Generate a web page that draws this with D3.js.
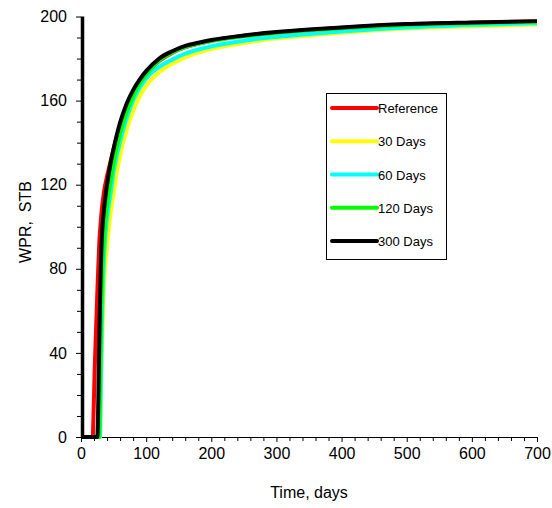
<!DOCTYPE html>
<html>
<head>
<meta charset="utf-8">
<script src="https://cdn.jsdelivr.net/npm/d3@7"></script>
<style>
  html, body { margin: 0; padding: 0; background: #fff; }
  svg { display: block; font-family: "Liberation Sans", Arial, sans-serif; }
</style>
</head>
<body>
<svg id="chart" width="552" height="508"></svg>
<script>
// ---- data ----
const seriesNames = ["Reference", "30 Days", "60 Days", "120 Days", "300 Days"];
const seriesColors = ["#ff0000", "#ffff00", "#00ffff", "#00ff00", "#000000"];

const refTime = [0, 18, 19, 21, 23, 25, 28, 31, 35, 40, 45, 50, 60, 70, 80, 90, 100, 120, 140, 160, 180, 200, 250, 300, 350, 400, 500, 600, 700];
const refWPR  = [0, 0, 8, 32, 50, 68, 92, 105, 116, 124, 130.5, 137, 148, 157, 163.5, 168.5, 172.5, 178.8, 182.7, 185.4, 187.1, 188.5, 190.8, 192.4, 193.6, 194.6, 196.2, 197, 197.6];

const d30Time = [0, 29, 30, 31, 32, 34, 36, 38, 40, 43, 46, 50, 55, 60, 70, 80, 90, 100, 120, 140, 160, 180, 200, 250, 300, 350, 400, 500, 600, 700];
const d30WPR  = [0, 0, 12, 28, 42, 62, 76, 85, 91, 100, 108, 116, 126, 134, 146, 155, 162, 167, 173.5, 177.5, 180.5, 182.8, 184.5, 187.4, 189.6, 191, 192.3, 194.3, 195.4, 196.2];

const d60Time = [0, 29, 30, 31, 32, 33, 35, 37, 40, 43, 46, 50, 55, 60, 70, 80, 90, 100, 120, 140, 160, 180, 200, 250, 300, 350, 400, 500, 600, 700];
const d60WPR  = [0, 0, 15, 35, 52, 65, 83, 94, 104, 111, 117, 126, 134, 140.5, 151.5, 160, 166, 170.5, 176, 179.5, 182.3, 184.3, 185.8, 188.5, 190.3, 191.7, 192.9, 194.8, 196, 196.8];

const d120Time = [0, 28, 29, 30, 31, 32, 34, 36, 39, 42, 46, 50, 60, 70, 80, 90, 100, 120, 140, 160, 180, 200, 250, 300, 350, 400, 500, 600, 700];
const d120WPR  = [0, 0, 20, 42, 60, 73, 88, 98, 108, 115, 123, 130, 144.5, 154.5, 162, 168, 172.3, 179, 182.8, 185.4, 187, 188.3, 190.6, 192.2, 193.4, 194.4, 196, 196.9, 197.5];

const d300Time = [0, 25, 26, 27, 28, 29, 30, 31, 32, 34, 37, 40, 45, 50, 60, 70, 80, 90, 100, 120, 140, 160, 180, 200, 250, 300, 350, 400, 500, 600, 700];
const d300WPR  = [0, 0, 8, 26, 44, 62, 76, 87, 95, 104, 113, 120, 129.5, 137, 149.5, 158.5, 165, 170, 174, 180, 183.5, 186, 187.5, 188.8, 191, 192.6, 193.8, 194.8, 196.4, 197.2, 197.8];

const xMajorTicks = [0, 100, 200, 300, 400, 500, 600, 700];
const yMajorTicks = [0, 40, 80, 120, 160, 200];
const xLabel = "Time, days";
const yLabel = "WPR,  STB";

// ---- build ----
const seriesTimes = [refTime, d30Time, d60Time, d120Time, d300Time];
const seriesValues = [refWPR, d30WPR, d60WPR, d120WPR, d300WPR];
const series = seriesNames.map((name, i) => ({
  name, color: seriesColors[i],
  pts: seriesTimes[i].map((t, j) => [t, seriesValues[i][j]])
}));

const svg = d3.select("#chart");
const x = d3.scaleLinear().domain([0, 700]).range([81, 537]);
const y = d3.scaleLinear().domain([0, 200]).range([437, 16.5]);

// minor ticks
const xMinor = d3.range(0, 701, 20).filter(v => v % 100 !== 0);
const yMinor = d3.range(0, 201, 10).filter(v => v % 40 !== 0);

const gx = svg.append("g").attr("transform", `translate(0,${y(0)})`);
gx.call(d3.axisBottom(x).tickValues(xMajorTicks).tickSize(5).tickPadding(6).tickFormat(d3.format("d")));
gx.selectAll(".tick text").attr("font-size", 16).attr("font-family", "Liberation Sans, Arial, sans-serif").attr("fill", "#000");
gx.select(".domain").attr("stroke", "#000").attr("stroke-width", 1);
gx.selectAll(".tick line").attr("stroke", "#000");
gx.selectAll(".minor").data(xMinor).enter().append("line")
  .attr("x1", d => x(d) + 0.5).attr("x2", d => x(d) + 0.5)
  .attr("y1", 0).attr("y2", 4).attr("stroke", "#000");

const gy = svg.append("g").attr("transform", `translate(${x(0)},0)`);
gy.call(d3.axisLeft(y).tickValues(yMajorTicks).tickSize(5).tickPadding(9).tickFormat(d3.format("d")));
gy.selectAll(".tick text").attr("font-size", 16).attr("font-family", "Liberation Sans, Arial, sans-serif").attr("fill", "#000");
gy.select(".domain").remove();
gy.selectAll(".tick line").attr("stroke", "#000");
gy.selectAll(".minor").data(yMinor).enter().append("line")
  .attr("y1", d => y(d) + 0.5).attr("y2", d => y(d) + 0.5)
  .attr("x1", 0).attr("x2", -4).attr("stroke", "#000");

// lines
const line = d3.line().x(d => x(d[0])).y(d => y(d[1])).curve(d3.curveMonotoneX);
svg.append("g").selectAll("path").data(series).enter().append("path")
  .attr("d", d => line(d.pts))
  .attr("fill", "none")
  .attr("stroke", d => d.color)
  .attr("stroke-width", 4)
  .attr("stroke-linejoin", "round");

// thick y axis line
svg.append("line")
  .attr("x1", x(0) + 1.5).attr("x2", x(0) + 1.5)
  .attr("y1", y(200)).attr("y2", y(0) + 0.5)
  .attr("stroke", "#000").attr("stroke-width", 3.5);

// axis titles
svg.append("text").attr("x", (x(0) + x(700)) / 2).attr("y", 498)
  .attr("text-anchor", "middle").attr("font-size", 16).text(xLabel);
svg.append("text").attr("transform", `translate(31,${222}) rotate(-90)`)
  .attr("text-anchor", "middle").attr("font-size", 16)
  .style("white-space", "pre").text(yLabel);

// legend
const lg = svg.append("g");
lg.append("rect").attr("x", 326.5).attr("y", 93.5).attr("width", 120).attr("height", 166)
  .attr("fill", "#fff").attr("stroke", "#000").attr("stroke-width", 1);
const ly = i => 108 + i * 33.25;
series.forEach((s, i) => {
  lg.append("line").attr("x1", 332).attr("x2", 377).attr("y1", ly(i)).attr("y2", ly(i))
    .attr("stroke", s.color).attr("stroke-width", 4).attr("stroke-linecap", "round");
  lg.append("text").attr("x", 378).attr("y", ly(i) + 5).attr("font-size", 13).text(s.name);
});
</script>
</body>
</html>
